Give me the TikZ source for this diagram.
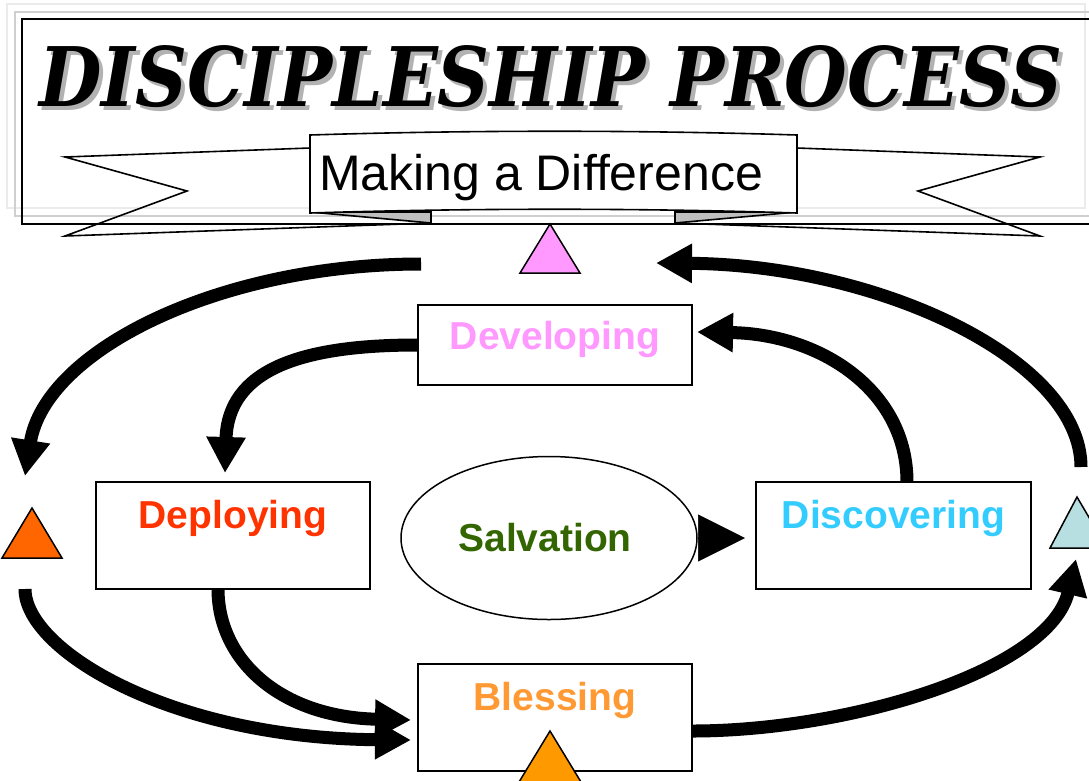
\documentclass[tikz,border=0pt]{standalone}
\usepackage{fontspec}
\usepackage{graphicx}
\setmainfont{Liberation Sans}
\newfontfamily\titlefont{DejaVu Serif}
\usetikzlibrary{arrows.meta,shapes.geometric}
\definecolor{devpink}{HTML}{FF99FF}
\definecolor{deporange}{HTML}{FF3300}
\definecolor{disccyan}{HTML}{33CCFF}
\definecolor{blessorange}{HTML}{FF9933}
\definecolor{salvgreen}{HTML}{336600}
\definecolor{triorange}{HTML}{FF6600}
\definecolor{trigold}{HTML}{FF9900}
\definecolor{tricyan}{HTML}{B7DEE0}
\definecolor{framelight}{HTML}{EBEBEB}
\definecolor{framegray}{HTML}{CFCFCF}
\tikzset{
  stepbox/.style={draw=black, line width=1.6pt, fill=white, rectangle, inner sep=0pt},
  lbl/.style={anchor=base, inner sep=0pt, font=\fontsize{39}{40}\selectfont\bfseries},
  flow/.style={line width=13pt, line cap=butt, -{Triangle[length=36pt,width=37pt]}},
  marker/.style={draw=black, line width=1.5pt, line join=miter},
  ribbon/.style={draw=black, line width=1.6pt, line join=miter},
}
\begin{document}
\begin{tikzpicture}[x=1pt,y=-1pt]
\useasboundingbox (0,0) rectangle (1089,780);
\clip (0,0) rectangle (1089,780);
% header frames
\draw[framelight, line width=1.5pt] (7,4) rectangle (1085,208);
\draw[framegray, line width=1.5pt] (15,12) rectangle (1100,216);
\draw[black, line width=1.6pt] (22,19) rectangle (1110,224);
% title
\node[anchor=south west, inner sep=0pt, text=black!30] (titleshadow) at (43,112)
  {\resizebox{1023pt}{61pt}{\titlefont\bfseries\itshape DISCIPLESHIP PROCESS}};
\node[anchor=south west, inner sep=0pt, text=black] (title) at (39,108)
  {\resizebox{1023pt}{61pt}{\titlefont\bfseries\itshape DISCIPLESHIP PROCESS}};
% ribbon tails
\draw[ribbon] (310,148) -- (65,157) -- (187,191) -- (65,236) -- (431,223) -- (431,212);
\filldraw[ribbon, fill=black!25] (310,212) -- (431,223) -- (431,212) -- cycle;
\draw[ribbon] (797,148) -- (1040,157) -- (918,191) -- (1040,236) -- (675,223) -- (675,212);
\filldraw[ribbon, fill=black!25] (797,212) -- (675,223) -- (675,212) -- cycle;
% ribbon centre
\filldraw[ribbon, fill=white] (310,135) .. controls (470,130) and (640,130) .. (797,135)
  -- (797,213) .. controls (640,208) and (470,208) .. (310,213) -- cycle;
\node[anchor=base, inner sep=0pt, font=\fontsize{50}{52}\selectfont] (sub) at (541,190) {Making a Difference};
% triangles
\filldraw[marker, fill=devpink] (550,224) -- (580,273) -- (520,273) -- cycle;
\filldraw[marker, fill=triorange] (32,508) -- (62,558) -- (2,558) -- cycle;
\filldraw[marker, fill=tricyan] (1077,497) -- (1107,548) -- (1050,548) -- cycle;
% boxes
\node[stepbox, minimum width=274pt, minimum height=80pt] (dev) at (555,345) {};
\node[stepbox, minimum width=274pt, minimum height=107pt] (depl) at (233,535.5) {};
\node[stepbox, minimum width=275pt, minimum height=107pt] (disc) at (893.5,535.5) {};
\node[stepbox, minimum width=274pt, minimum height=107pt] (bless) at (555,717.5) {};
\node[ellipse, draw=black, line width=1.5pt, fill=white, minimum width=296pt, minimum height=163pt, inner sep=0pt] (salv) at (549,538) {};
% labels
\node[lbl, text=devpink] (devlbl) at (555,349) {Developing};
\node[lbl, text=deporange] (depllbl) at (233,528) {Deploying};
\node[lbl, text=disccyan] (disclbl) at (893.5,528) {Discovering};
\node[lbl, text=blessorange] (blesslbl) at (555,710) {Blessing};
\node[lbl, text=salvgreen] (salvlbl) at (545,551) {Salvation};
% bottom triangle
\filldraw[marker, fill=trigold] (550,731) -- (581,782) -- (519,782) -- cycle;
% connector end points
\coordinate (a1s) at (421,264);
\coordinate (a1e) at (25,476);
\coordinate (a2e) at (225,473);
\coordinate (a3s) at (1081,467);
\coordinate (a3e) at (656,263);
\coordinate (a4s) at (907,482);
\coordinate (a4e) at (697,332);
\coordinate (a5s) at (25,589);
\coordinate (a5e) at (411,740);
\coordinate (a6s) at (218,589);
\coordinate (a6e) at (411,720);
\coordinate (a7s) at (692,731);
\coordinate (a7e) at (1076,559);
\coordinate (a8e) at (745,538);
% connectors
\draw[flow] (a1s) .. controls (220,264) and (45,350) .. (a1e);
\draw[flow] (dev.west) .. controls (300,345) and (228,370) .. (a2e);
\draw[flow] (a3s) .. controls (1081,360) and (880,265) .. (a3e);
\draw[flow] (a4s) .. controls (907,390) and (820,334) .. (a4e);
\draw[flow] (a5s) .. controls (25,650) and (170,738) .. (a5e);
\draw[flow] (a6s) .. controls (218,660) and (280,717) .. (a6e);
\draw[flow] (a7s) .. controls (850,731) and (1050,670) .. (a7e);
\draw[line width=0.5pt, -{Triangle[length=47pt,width=47pt]}] (salv.east) -- (a8e);
\end{tikzpicture}
\end{document}
